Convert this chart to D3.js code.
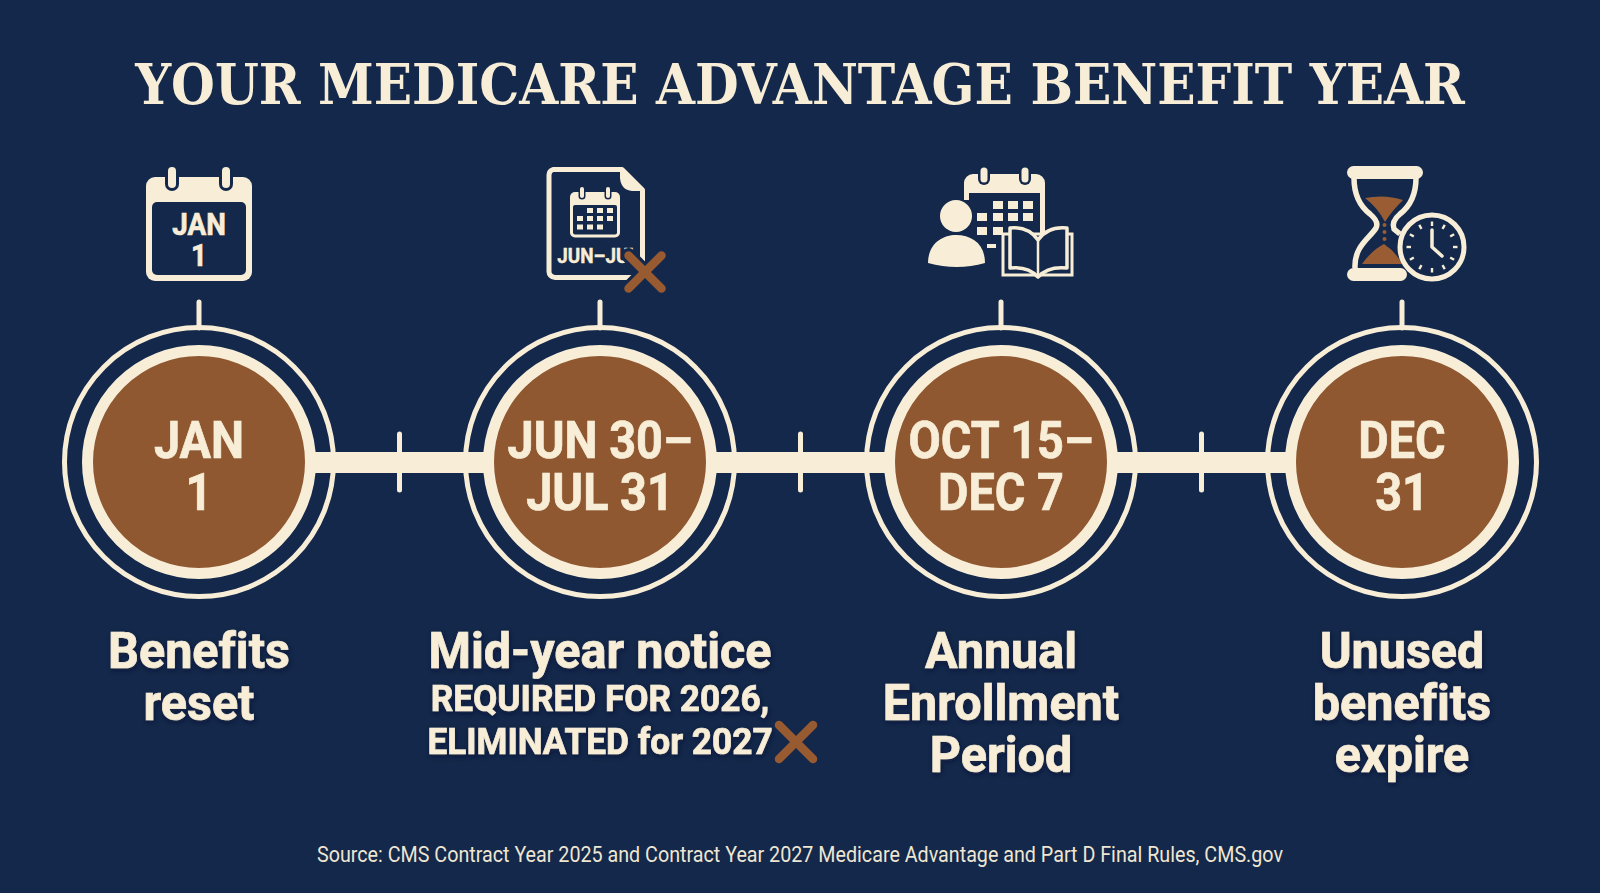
<!DOCTYPE html>
<html>
<head>
<meta charset="utf-8">
<title>Your Medicare Advantage Benefit Year</title>
<script src="https://cdn.jsdelivr.net/npm/d3@7"></script>
<style>
    html, body { margin: 0; padding: 0; background: #13284a; overflow: hidden; }
    svg { display: block; }
    text { font-family: Roboto, sans-serif; font-weight: 700; fill: #f8eed8; text-anchor: middle; font-variant-ligatures: none; }
</style>
</head>
<body>
<div id="chart"></div>
<script>
const titleText = "YOUR MEDICARE ADVANTAGE BENEFIT YEAR";
const sourceText = "Source: CMS Contract Year 2025 and Contract Year 2027 Medicare Advantage and Part D Final Rules, CMS.gov";

const milestones = ["jan", "midyear", "aep", "dec"];
const dateLines = [["JAN", "1"], ["JUN 30–", "JUL 31"], ["OCT 15–", "DEC 7"], ["DEC", "31"]];
const labelLines = [
    ["Benefits", "reset"],
    ["Mid-year notice"],
    ["Annual", "Enrollment", "Period"],
    ["Unused", "benefits", "expire"]
];
const noticeLines = ["REQUIRED FOR 2026,", "ELIMINATED for 2027"];

const navy = "#13284a", cream = "#f8eed8", brown = "#8f5830", crossBrown = "#985a31";

const width = 1600, height = 893;
const x = d3.scalePoint().domain(milestones).range([199, 1402]);
const cy = 462;

const svg = d3.select("#chart").append("svg")
    .attr("width", width)
    .attr("height", height);

svg.append("rect").attr("width", width).attr("height", height).attr("fill", navy);

const defs = svg.append("defs");
const shadow = defs.append("filter").attr("id", "soft").attr("x", "-10%").attr("y", "-20%").attr("width", "120%").attr("height", "150%");
shadow.append("feDropShadow").attr("dx", 1).attr("dy", 2).attr("stdDeviation", 2.5).attr("flood-color", "#0a1730").attr("flood-opacity", 0.6);

// squeezes the text horizontally, the reference face is narrower than Roboto
function squeezed(parent, str, px, py, size, stretch, weight) {
    return parent.append("text")
        .attr("transform", "translate(" + px + "," + py + ") scale(" + stretch + ",1)")
        .attr("stroke", cream)
        .attr("stroke-width", weight || 0.7)
        .style("font-size", size + "px")
        .text(str);
}

function cross(parent, cx, cy, r) {
    const d = "M" + (cx - r) + "," + (cy - r) + "L" + (cx + r) + "," + (cy + r) + "M" + (cx + r) + "," + (cy - r) + "L" + (cx - r) + "," + (cy + r);
    parent.append("path").attr("d", d).attr("fill", "none").attr("stroke", navy).attr("stroke-width", 15).attr("stroke-linecap", "round");
    parent.append("path").attr("d", d).attr("fill", "none").attr("stroke", crossBrown).attr("stroke-width", 8.5).attr("stroke-linecap", "round");
}

// title, fitted to its width after measuring
const title = svg.append("text")
    .style("font-family", "'DejaVu Serif', serif")
    .style("font-size", "56px")
    .text(titleText);
const titleStretch = 1330 / title.node().getComputedTextLength();
title.attr("transform", "translate(800,104) scale(" + titleStretch + ",1)");

// timeline bar and the small ticks half way between milestones
svg.append("rect")
    .attr("x", x("jan"))
    .attr("y", cy - 10)
    .attr("width", x("dec") - x("jan"))
    .attr("height", 21)
    .attr("fill", cream);

const gaps = d3.pairs(milestones).map(p => (x(p[0]) + x(p[1])) / 2);
svg.selectAll("line.tick").data(gaps).enter().append("line")
    .attr("class", "tick")
    .attr("x1", d => d).attr("x2", d => d)
    .attr("y1", cy - 28).attr("y2", cy + 28)
    .attr("stroke", cream).attr("stroke-width", 5).attr("stroke-linecap", "round");

const node = svg.selectAll("g.node").data(milestones).enter().append("g")
    .attr("class", "node")
    .attr("transform", d => "translate(" + x(d) + "," + cy + ")");

node.append("line")
    .attr("y1", -160).attr("y2", -134)
    .attr("stroke", cream).attr("stroke-width", 5).attr("stroke-linecap", "round");
node.append("circle").attr("r", 134.5).attr("fill", "none").attr("stroke", cream).attr("stroke-width", 5);
node.append("circle").attr("r", 111.5).attr("fill", brown).attr("stroke", cream).attr("stroke-width", 11);

node.each(function (d, i) {
    const g = d3.select(this);
    dateLines[i].forEach((str, j) => squeezed(g, str, 0, -4 + j * 52, 52, 0.9));
});

// labels under the circles
milestones.forEach((m, i) => {
    labelLines[i].forEach((str, j) => {
        squeezed(svg, str, x(m), 668 + j * 52, 50, 0.97).attr("filter", "url(#soft)");
    });
});
noticeLines.forEach((str, j) => {
    squeezed(svg, str, x("midyear"), 711 + j * 43, 36.5, 0.965).attr("filter", "url(#soft)");
});
cross(svg, 796, 742, 17);

// source
svg.append("text")
    .attr("x", 800)
    .attr("y", 862)
    .attr("textLength", 966)
    .attr("lengthAdjust", "spacingAndGlyphs")
    .style("font-weight", 400)
    .style("font-size", "22px")
    .style("fill", "#efe6d2")
    .text(sourceText);

// ---- icons ----
const ic = svg.append("g").attr("class", "icons");

// calendar, jan 1
(function () {
    const g = ic.append("g");
    g.append("rect").attr("x", 146).attr("y", 177).attr("width", 106).attr("height", 104).attr("rx", 9).attr("fill", cream);
    g.append("rect").attr("x", 152).attr("y", 202).attr("width", 94).attr("height", 73).attr("rx", 5).attr("fill", navy);
    [172, 226].forEach(px => {
        g.append("line").attr("x1", px).attr("x2", px).attr("y1", 171).attr("y2", 184)
            .attr("stroke", navy).attr("stroke-width", 14).attr("stroke-linecap", "round");
        g.append("line").attr("x1", px).attr("x2", px).attr("y1", 171).attr("y2", 184)
            .attr("stroke", cream).attr("stroke-width", 8).attr("stroke-linecap", "round");
    });
    squeezed(g, "JAN", 199, 235, 32, 0.87);
    squeezed(g, "1", 199, 266, 32, 0.87);
})();

// document with calendar, crossed out
(function () {
    const g = ic.append("g");
    g.append("path")
        .attr("d", "M553,169.5H622L642.5,190V271a6,6 0 0 1 -6,6.5H555a6,6 0 0 1 -6,-6.5V175.5a6,6 0 0 1 4,-6Z")
        .attr("fill", "none").attr("stroke", cream).attr("stroke-width", 5).attr("stroke-linejoin", "round");
    g.append("path").attr("d", "M620,168L645,191H632Q621,190 620,178Z").attr("fill", cream);
    g.append("rect").attr("x", 570).attr("y", 192).attr("width", 50).attr("height", 45.5).attr("rx", 5).attr("fill", cream);
    g.append("rect").attr("x", 573).attr("y", 205).attr("width", 44).attr("height", 29.5).attr("rx", 2).attr("fill", navy);
    [582, 608].forEach(px => {
        g.append("line").attr("x1", px).attr("x2", px).attr("y1", 189).attr("y2", 196)
            .attr("stroke", navy).attr("stroke-width", 7).attr("stroke-linecap", "round");
        g.append("line").attr("x1", px).attr("x2", px).attr("y1", 189).attr("y2", 196)
            .attr("stroke", cream).attr("stroke-width", 4).attr("stroke-linecap", "round");
    });
    const cells = [[587, 208], [597, 208], [607, 208], [577, 216], [587, 216], [597, 216], [607, 216], [577, 224.5], [587, 224.5], [597, 224.5]];
    g.selectAll("rect.cell").data(cells).enter().append("rect").attr("class", "cell")
        .attr("x", d => d[0]).attr("y", d => d[1]).attr("width", 6).attr("height", 5).attr("fill", cream);
    squeezed(g, "JUN–JUL", 598, 263, 19.5, 0.97, 0.4);
    cross(g, 645, 272, 16.5);
})();

// person, calendar and book
(function () {
    const g = ic.append("g");
    g.append("path")
        .attr("d", "M964,200V183a9,9 0 0 1 9,-9H1036a9,9 0 0 1 9,9V234H1040V193H969V200Z")
        .attr("fill", cream);
    [984, 1025].forEach(px => {
        g.append("line").attr("x1", px).attr("x2", px).attr("y1", 171).attr("y2", 179)
            .attr("stroke", navy).attr("stroke-width", 12).attr("stroke-linecap", "round");
        g.append("line").attr("x1", px).attr("x2", px).attr("y1", 171).attr("y2", 179)
            .attr("stroke", cream).attr("stroke-width", 7).attr("stroke-linecap", "round");
    });
    const cells = [[993, 201], [1008, 201], [1023, 201], [977, 213], [993, 213], [1008, 213], [1023, 213], [977, 227], [993, 227]];
    g.selectAll("rect.cell").data(cells).enter().append("rect").attr("class", "cell")
        .attr("x", d => d[0]).attr("y", d => d[1]).attr("width", 10).attr("height", 8).attr("fill", cream);
    g.append("rect").attr("x", 987).attr("y", 244).attr("width", 9).attr("height", 4).attr("fill", cream);
    // person
    g.append("circle").attr("cx", 956).attr("cy", 216).attr("r", 16).attr("fill", cream);
    g.append("path")
        .attr("d", "M928,263C928,244 942,235 956,235C972,235 985,244 985,263Q957,271 928,263Z")
        .attr("fill", cream);
    // book
    g.append("path")
        .attr("d", "M1003,234H1072V275H1003Z").attr("fill", navy).attr("stroke", cream).attr("stroke-width", 3);
    g.append("path")
        .attr("d", "M1010,228Q1028,226 1038,240Q1048,226 1067,228V268Q1048,266 1038,277Q1028,266 1010,268Z")
        .attr("fill", navy).attr("stroke", cream).attr("stroke-width", 3.5).attr("stroke-linejoin", "round");
    g.append("line").attr("x1", 1038).attr("x2", 1038).attr("y1", 240).attr("y2", 277).attr("stroke", cream).attr("stroke-width", 2.5);
})();

// hourglass with clock
(function () {
    const g = ic.append("g");
    g.append("path")
        .attr("d", "M1354,178C1354,196 1361,207 1370,214C1376,219 1378,224 1376,228C1370,238 1354,246 1355,268")
        .attr("fill", "none").attr("stroke", cream).attr("stroke-width", 5.5);
    g.append("path")
        .attr("d", "M1416,178C1416,196 1409,207 1400,214C1394,219 1392,224 1394,229L1400,234")
        .attr("fill", "none").attr("stroke", cream).attr("stroke-width", 5.5);
    g.append("path").attr("d", "M1365,198Q1385,194 1403,200Q1391,212 1385,222Q1378,208 1365,198Z").attr("fill", "#9a5c33");
    g.append("path").attr("d", "M1362,264Q1372,250 1384,244Q1396,252 1402,264Z").attr("fill", "#9a5c33");
    g.selectAll("circle.sand").data([225, 232, 239]).enter().append("circle").attr("class", "sand")
        .attr("cx", 1384.5).attr("cy", d => d).attr("r", 2).attr("fill", "#9a5c33");
    g.append("rect").attr("x", 1347).attr("y", 166).attr("width", 76).attr("height", 13).attr("rx", 6.5).attr("fill", cream);
    g.append("rect").attr("x", 1347).attr("y", 268).attr("width", 60).attr("height", 13).attr("rx", 6.5).attr("fill", cream);
    // clock
    const cl = g.append("g").attr("transform", "translate(1432,247)");
    cl.append("circle").attr("r", 32).attr("fill", navy).attr("stroke", cream).attr("stroke-width", 5);
    cl.selectAll("line.hour").data(d3.range(12)).enter().append("line").attr("class", "hour")
        .attr("x1", d => 21 * Math.sin(d * Math.PI / 6)).attr("y1", d => -21 * Math.cos(d * Math.PI / 6))
        .attr("x2", d => 25.5 * Math.sin(d * Math.PI / 6)).attr("y2", d => -25.5 * Math.cos(d * Math.PI / 6))
        .attr("stroke", cream).attr("stroke-width", 2.4);
    cl.append("path").attr("d", "M0,-17V0L10,9").attr("fill", "none").attr("stroke", cream).attr("stroke-width", 3.5).attr("stroke-linecap", "round").attr("stroke-linejoin", "round");
})();
</script>
</body>
</html>
